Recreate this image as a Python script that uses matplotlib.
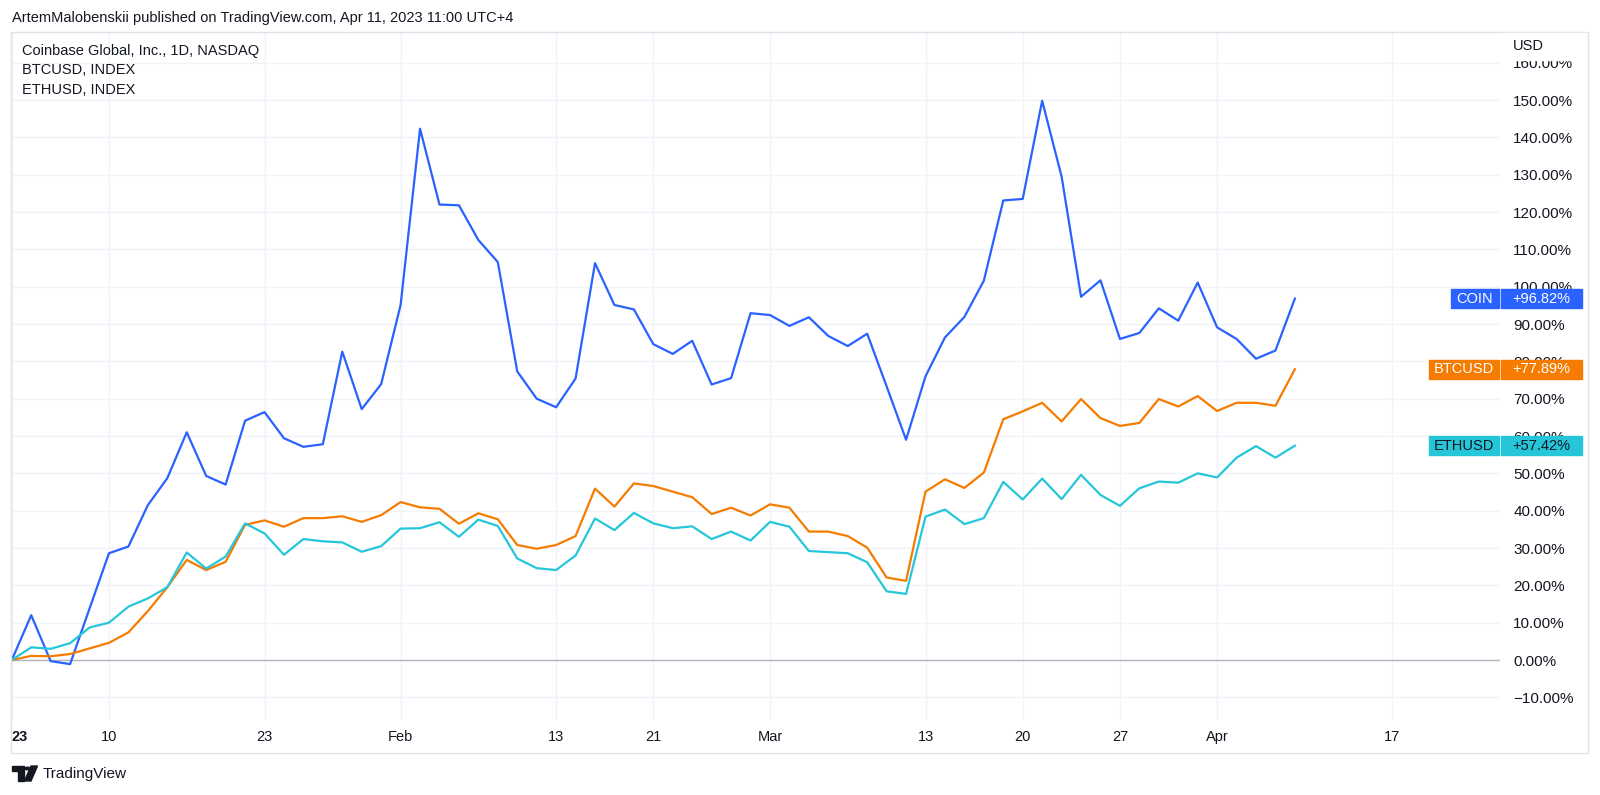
import matplotlib
matplotlib.use("Agg")
import matplotlib.pyplot as plt
from matplotlib.patches import Rectangle, Polygon, Circle
import pandas as pd

plt.rcParams['font.family'] = ['Liberation Sans', 'DejaVu Sans']

# % change since first close, one value per COIN trading day (Jan 3 .. Apr 10 2023)
coin = [0, 12.0, -0.3, -1.1, 13.8, 28.6, 30.4, 41.5, 48.7, 61.0,
        49.3, 47.0, 64.1, 66.4, 59.4, 57.1, 57.8, 82.6, 67.2, 73.9,
        95.1, 142.3, 122.0, 121.8, 112.5, 106.6, 77.3, 70.0, 67.7, 75.4,
        106.3, 95.1, 93.9, 84.6, 82.0, 85.5, 73.8, 75.5, 92.9, 92.4,
        89.5, 91.8, 86.8, 84.1, 87.4, 73.3, 59.0, 76.0, 86.4, 91.9,
        101.6, 123.1, 123.5, 149.8, 129.5, 97.3, 101.7, 86.0, 87.6, 94.2,
        90.9, 101.1, 89.1, 86.0, 80.7, 82.9, 96.82]
btc = [0, 1.1, 1.0, 1.6, 3.1, 4.6, 7.4, 13.1, 19.5, 26.8,
       24.1, 26.3, 36.2, 37.4, 35.7, 38.0, 38.0, 38.5, 37.0, 38.8,
       42.3, 40.9, 40.5, 36.5, 39.3, 37.7, 30.8, 29.8, 30.8, 33.2,
       45.9, 41.1, 47.3, 46.6, 45.1, 43.6, 39.1, 40.8, 38.7, 41.7,
       40.8, 34.4, 34.4, 33.2, 30.1, 22.1, 21.2, 45.1, 48.4, 46.1,
       50.2, 64.5, 66.6, 68.9, 63.9, 69.9, 64.8, 62.7, 63.5, 69.9,
       67.9, 70.7, 66.7, 68.9, 68.9, 68.1, 77.89]
eth = [0, 3.4, 3.0, 4.5, 8.7, 10.0, 14.3, 16.5, 19.5, 28.8,
       24.5, 27.7, 36.6, 33.9, 28.2, 32.4, 31.8, 31.5, 29.0, 30.5,
       35.2, 35.3, 36.9, 33.0, 37.6, 35.9, 27.2, 24.6, 24.1, 28.0,
       37.9, 34.8, 39.4, 36.6, 35.3, 35.8, 32.4, 34.4, 32.0, 37.0,
       35.7, 29.2, 28.9, 28.6, 26.2, 18.4, 17.7, 38.4, 40.3, 36.4,
       38.0, 47.7, 43.0, 48.6, 43.1, 49.6, 44.2, 41.3, 46.0, 47.8,
       47.5, 50.0, 48.9, 54.2, 57.3, 54.2, 57.42]

names = ['COIN', 'BTCUSD', 'ETHUSD']
colors = ['#2962ff', '#f57c00', '#26c6da']
text_colors = ['white', 'white', '#131722']
legend_lines = ['Coinbase Global, Inc., 1D, NASDAQ', 'BTCUSD, INDEX', 'ETHUSD, INDEX']

holidays = ['2023-01-16', '2023-02-20', '2023-04-07']
tick_dates = ['2023-01-03', '2023-01-10', '2023-01-23', '2023-02-01', '2023-02-13',
              '2023-02-21', '2023-03-01', '2023-03-13', '2023-03-20', '2023-03-27',
              '2023-04-03', '2023-04-17']
tick_labels = ['23', '10', '23', 'Feb', '13', '21', 'Mar', '13', '20', '27', 'Apr', '17']
y_ticks = list(range(-10, 161, 10))

days = pd.bdate_range('2023-01-03', periods=80, freq='C', holidays=holidays)
day_pos = {d.strftime('%Y-%m-%d'): i for i, d in enumerate(days)}

W, H = 1600, 795
def fx(px):
    return px / W
def fy(py):
    return 1 - py / H

fig = plt.figure(figsize=(W / 100, H / 100), dpi=100)
ax = fig.add_axes([fx(11), fy(720), fx(1500) - fx(11), fy(31.7) - fy(720)])

for s, c in zip([coin, btc, eth], colors):
    ax.plot(range(len(s)), s, color=c, lw=1.6, zorder=3)

ax.axhline(0, color='#b2b5be', lw=1, zorder=2)
ax.set_xlim(-0.04, 76.55)
ax.set_ylim(-16.07, 168.3)

ax.set_xticks([day_pos[d] for d in tick_dates])
ax.set_xticklabels(tick_labels)
ax.set_yticks(y_ticks)
ax.set_yticklabels(['%.2f%%' % v if v >= 0 else '\u2212%.2f%%' % -v for v in y_ticks])
ax.yaxis.tick_right()
ax.tick_params(axis='both', length=0, colors='#131722', labelsize=10.5)
ax.tick_params(axis='y', pad=9.5, labelsize=11)
ax.tick_params(axis='x', pad=7)
xl = ax.get_xticklabels()
xl[0].set_fontweight('bold')
xl[0].set_horizontalalignment('left')
ax.grid(True, color='#f0f3fa', lw=1, zorder=0)
for sp in ax.spines.values():
    sp.set_visible(False)

# outer frame
fig.add_artist(Rectangle((fx(11), fy(752.7)), fx(1588) - fx(11), fy(31.7) - fy(752.7),
                         transform=fig.transFigure, fill=False, edgecolor='#e0e3eb', lw=1))

# header and legend
fig.text(fx(12), fy(18), 'ArtemMalobenskii published on TradingView.com, Apr 11, 2023 11:00 UTC+4',
         fontsize=10.5, color='#131722', va='center')
for k, t in enumerate(legend_lines):
    fig.text(fx(22), fy(50.7 + 19.7 * k), t, fontsize=10.5, color='#131722', va='center')

# USD label over the clipped top tick
fig.add_artist(Rectangle((fx(1502), fy(60)), fx(1586) - fx(1502), fy(33) - fy(60),
                         transform=fig.transFigure, color='white', zorder=4))
fig.text(fx(1513), fy(46.5), 'USD', fontsize=10.5, color='#131722', va='center', zorder=5)

# last value tags
fig.canvas.draw()
for s, n, c, tc in zip([coin, btc, eth], names, colors, text_colors):
    yc = ax.transData.transform((0, s[-1]))[1] / H
    h = 19.4 / H
    x0 = 1499 - (48 if n == 'COIN' else 70)
    fig.add_artist(Rectangle((fx(x0), yc - h / 2), fx(1499) - fx(x0), h,
                             transform=fig.transFigure, color=c, zorder=6))
    fig.add_artist(Rectangle((fx(1500.7), yc - h / 2), fx(1582) - fx(1500.7), h,
                             transform=fig.transFigure, color=c, zorder=6))
    fig.text(fx((x0 + 1499) / 2), yc, n, fontsize=10.5, color=tc, ha='center', va='center', zorder=7)
    fig.text(fx(1541.3), yc, '%+.2f%%' % s[-1], fontsize=10.5, color=tc,
             ha='center', va='center', zorder=7)

# TradingView logo
def P(x, y):
    return (fx(x), fy(y))
fig.add_artist(Polygon([P(12, 766), P(24, 766), P(24, 781), P(18, 781), P(18, 771), P(12, 771)],
                       closed=True, transform=fig.transFigure, color='#131722'))
fig.add_artist(Circle(P(27.5, 768.5), 2.6 / W, transform=fig.transFigure, color='#131722'))
fig.add_artist(Polygon([P(31, 766), P(37.5, 766), P(31, 781), P(24.5, 781)],
                       closed=True, transform=fig.transFigure, color='#131722'))
fig.text(fx(43), fy(774), 'TradingView', fontsize=11, color='#131722', va='center')

fig.savefig('out.png', dpi=100)
